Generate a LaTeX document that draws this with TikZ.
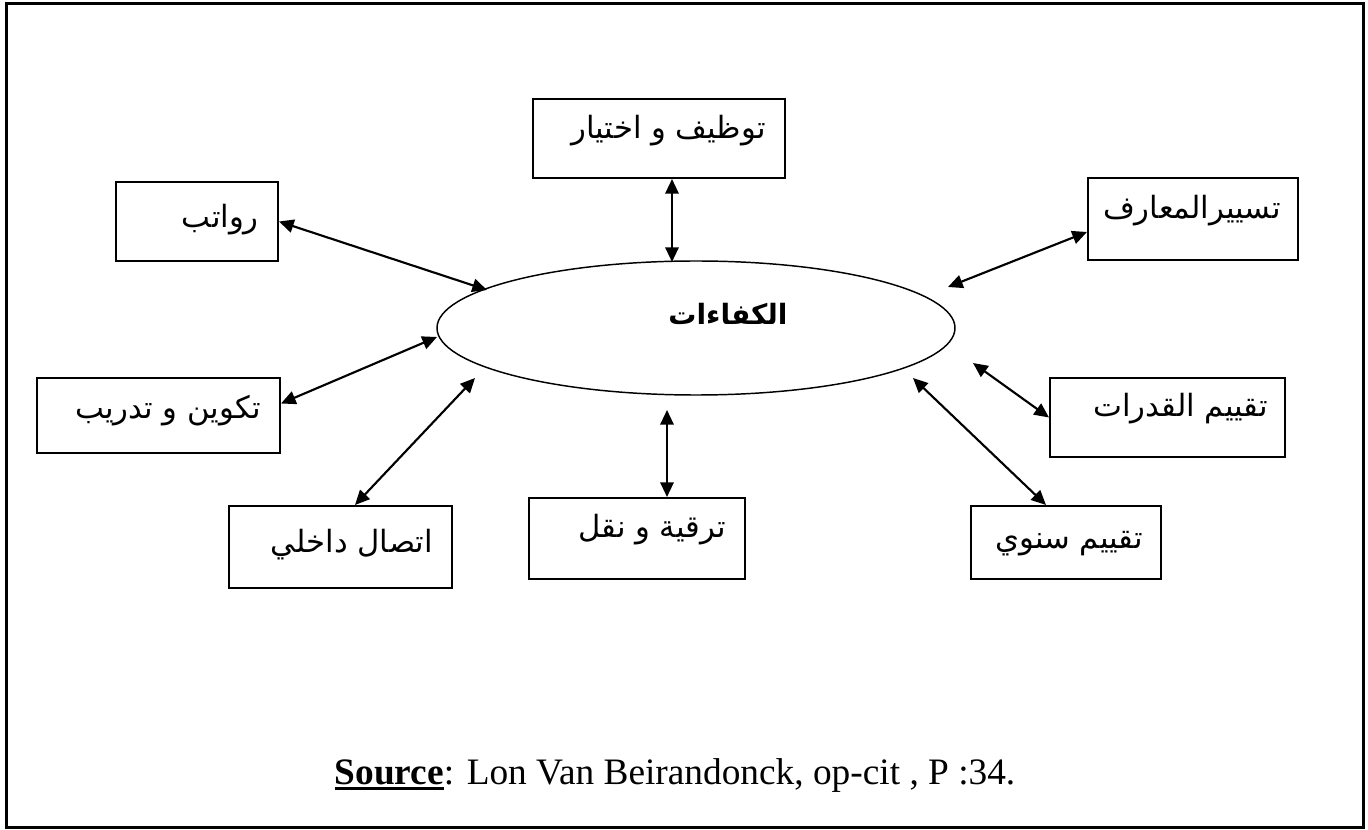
\documentclass[tikz,border=0pt]{standalone}
\usepackage{fontspec}
\setmainfont{Liberation Serif}
\newfontfamily\arabicfont[Script=Arabic]{DejaVu Sans}
\TeXXeTstate=1
\usetikzlibrary{arrows.meta,calc,shapes.geometric}
\newcommand\thickul[1]{\setbox0\hbox{#1}\rlap{\rule[-4pt]{\wd0}{2.2pt}}\box0}
\begin{document}
\begin{tikzpicture}[x=0.75pt,y=-0.75pt,
  box/.style={draw,line width=1.5pt,rectangle,inner sep=0pt},
  wh/.style 2 args={minimum width=#1*0.75pt, minimum height=#2*0.75pt},
  lbl/.style={font=\arabicfont\fontsize{23}{27}\selectfont, inner sep=0pt, anchor=east},
  link/.style={line width=1.6pt,{Triangle[length=11pt,width=10pt]}-{Triangle[length=11pt,width=10pt]}}]
\useasboundingbox (0,0) rectangle (1368,830);
\draw[line width=2.25pt] (6,3.5) rectangle (1363,827);

\node[box, wh={162}{79}] (rawatib) at (197,221.5) {};
\node[box, wh={252}{79}] (tawzif) at (659,138.5) {};
\node[box, wh={210}{82}] (tasyir) at (1193,219) {};
\node[box, wh={243}{75}] (takwin) at (158.5,415.5) {};
\node[box, wh={235}{79}] (qudurat) at (1167.5,417.5) {};
\node[box, wh={223}{82}] (ittisal) at (340.5,547) {};
\node[box, wh={216}{81}] (tarqiya) at (637,538.5) {};
\node[box, wh={190}{73}] (sanawi) at (1066,542.5) {};

\node[draw, ellipse, line width=1.1pt, inner sep=0pt, minimum width=518*0.75pt, minimum height=134*0.75pt] (kafaat) at (696,328) {};
\node[font=\arabicfont\bfseries\fontsize{21}{25}\selectfont, inner sep=0pt] (kafaatT) at (728,314) {\beginR الكفاءات\endR};

\node[lbl] (rawatibT) at ($(rawatib.east)+(-20,-2)$) {\beginR رواتب\endR};
\node[lbl] (tawzifT) at ($(tawzif.east)+(-20,-8)$) {\beginR توظيف و اختيار\endR};
\node[lbl] (tasyirT) at ($(tasyir.east)+(-18,-8)$) {\beginR تسييرالمعارف\endR};
\node[lbl] (takwinT) at ($(takwin.east)+(-20,-5)$) {\beginR تكوين و تدريب\endR};
\node[lbl] (quduratT) at ($(qudurat.east)+(-18,-9)$) {\beginR تقييم القدرات\endR};
\node[lbl] (ittisalT) at ($(ittisal.east)+(-20,-2)$) {\beginR اتصال داخلي\endR};
\node[lbl] (tarqiyaT) at ($(tarqiya.east)+(-20,-9)$) {\beginR ترقية و نقل\endR};
\node[lbl] (sanawiT) at ($(sanawi.east)+(-19,1)$) {\beginR تقييم سنوي\endR};

\coordinate (k1) at (487,290);
\coordinate (k2) at (672,262);
\coordinate (k3) at (948,287);
\coordinate (k4) at (437,337);
\coordinate (k5) at (475,378);
\coordinate (k6) at (667,410);
\coordinate (k7) at (973,363);
\coordinate (k8) at (913,378);

\draw[link] (rawatib.east) -- (k1);
\draw[link] ($(tawzif.south)+(13,0)$) -- (k2);
\draw[link] ($(tasyir.west)+(0,13)$) -- (k3);
\draw[link] ($(takwin.east)+(0,-12)$) -- (k4);
\draw[link] ($(ittisal.north)+(14.5,0)$) -- (k5);
\draw[link] ($(tarqiya.north)+(30,0)$) -- (k6);
\draw[link] (qudurat.west) -- (k7);
\draw[link] ($(sanawi.north)+(-20,0)$) -- (k8);

\node[inner sep=0pt] (src) at (675,776) {\fontsize{28}{33}\selectfont\thickul{\textbf{Source}}: Lon Van Beirandonck, op-cit , P :34.};
\end{tikzpicture}
\end{document}
